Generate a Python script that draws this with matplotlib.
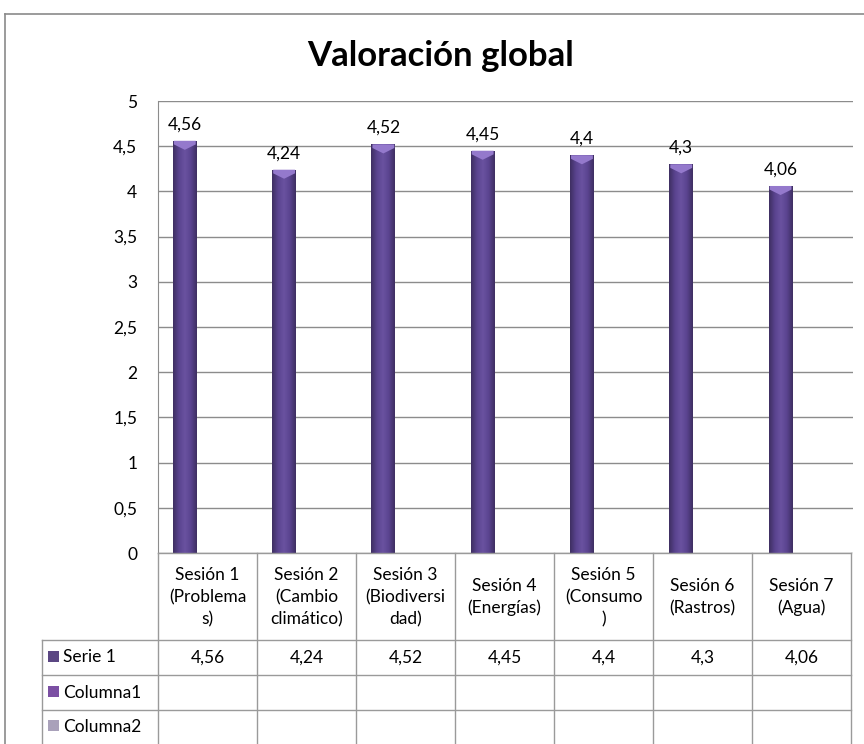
import matplotlib.pyplot as plt
import numpy as np
from matplotlib.colors import LinearSegmentedColormap
from matplotlib.patches import Rectangle, Polygon

plt.rcParams["font.family"] = ["Lato", "DejaVu Sans"]

# datos
categorias = [
    "Sesión 1\n(Problema\ns)",
    "Sesión 2\n(Cambio\nclimático)",
    "Sesión 3\n(Biodiversi\ndad)",
    "Sesión 4\n(Energías)",
    "Sesión 5\n(Consumo\n)",
    "Sesión 6\n(Rastros)",
    "Sesión 7\n(Agua)",
]
serie1 = [4.56, 4.24, 4.52, 4.45, 4.4, 4.3, 4.06]
etiquetas_serie1 = ["4,56", "4,24", "4,52", "4,45", "4,4", "4,3", "4,06"]
filas = ["Serie 1", "Columna1", "Columna2"]
colores_filas = ["#5b4783", "#7b4fa3", "#a9a1ba"]
yticks = np.arange(0, 5.01, 0.5)

W, H = 864, 744
FS = 12.5
fig = plt.figure(figsize=(W / 100, H / 100), dpi=100)

# ejes principales (pixeles -> fraccion)
x0, x1, ytop, ybot = 158, 853, 101, 553
ax = fig.add_axes([x0 / W, 1 - ybot / H, (x1 - x0) / W, (ybot - ytop) / H])
ax.set_xlim(-0.5, 6.5)
ax.set_ylim(0, 5)
ax.set_yticks(yticks)
ax.set_yticklabels([f"{v:g}".replace(".", ",") for v in yticks], fontsize=FS)
ax.tick_params(axis="y", length=0, pad=15)
ax.set_xticks([])
ax.grid(axis="y", color="#8c8c8c", lw=1)
ax.set_axisbelow(True)
for s in ["top", "right", "bottom"]:
    ax.spines[s].set_visible(False)
ax.spines["left"].set_color("#8c8c8c")

# barras cilindricas con degradado
cmap = LinearSegmentedColormap.from_list(
    "cil", ["#3f2f62", "#5a4490", "#6a52a0", "#5a4490", "#3f2f62"])
grad = np.linspace(0, 1, 64).reshape(1, -1)
xpos = np.arange(len(serie1)) - 0.23
ancho = 0.24
bars = ax.bar(xpos, serie1, width=ancho, color="#5f4a8c", zorder=2)
for b in bars:
    x, w, h = b.get_x(), b.get_width(), b.get_height()
    im = ax.imshow(grad, cmap=cmap, extent=[x, x + w, 0, h], aspect="auto",
                   zorder=3)
    im.set_clip_path(b)
    cap = Polygon([(x + 0.01, h), (x + w - 0.01, h), (x + w - 0.01, h - 0.04),
                   (x + w / 2, h - 0.1), (x + 0.01, h - 0.04)],
                  closed=True, color="#9479cc", lw=0, zorder=4)
    ax.add_patch(cap)
ax.set_xlim(-0.5, 6.5)
ax.set_ylim(0, 5)
for xp, v, lab in zip(xpos, serie1, etiquetas_serie1):
    ax.annotate(lab, (xp, v), xytext=(0, 6), textcoords="offset points",
                ha="center", va="bottom", fontsize=FS)

# titulo
fig.text(441 / W, 1 - 56 / H, "Valoración global", ha="center", va="center",
         fontsize=25, fontweight="bold")

# tabla de datos (capa superpuesta en pixeles)
tax = fig.add_axes([0, 0, 1, 1])
tax.set_xlim(0, W)
tax.set_ylim(H, 0)
tax.axis("off")
gcol = "#9a9a9a"
col_w = (851 - x0) / 7
bordes_x = [x0 + i * col_w for i in range(8)]
fila_y = [553, 640, 675, 710, 760]
for bx in bordes_x:
    tax.plot([bx, bx], [553, H], color=gcol, lw=1)
tax.plot([42, 42], [640, H], color=gcol, lw=1)
for fy in fila_y[1:4]:
    tax.plot([42, 851], [fy, fy], color=gcol, lw=1)
tax.plot([x0, 851], [553, 553], color=gcol, lw=1)
for i, cat in enumerate(categorias):
    cx = (bordes_x[i] + bordes_x[i + 1]) / 2
    tax.text(cx, 597, cat, ha="center", va="center", fontsize=FS,
             linespacing=1.45)
    tax.text(cx, 658, etiquetas_serie1[i], ha="center", va="center",
             fontsize=FS)
for j, (nom, c) in enumerate(zip(filas, colores_filas)):
    cy = (fila_y[j + 1] + fila_y[j + 2]) / 2 if j < 2 else 727
    tax.add_patch(Rectangle((48, cy - 7), 11, 11, color=c, lw=0))
    tax.text(63, cy, nom, ha="left", va="center", fontsize=FS)

# marco exterior
tax.plot([5, W], [14, 14], color="#8a8a8a", lw=1.2)
tax.plot([5, 5], [14, H], color="#8a8a8a", lw=1.2)

fig.savefig("out.png", dpi=100)
